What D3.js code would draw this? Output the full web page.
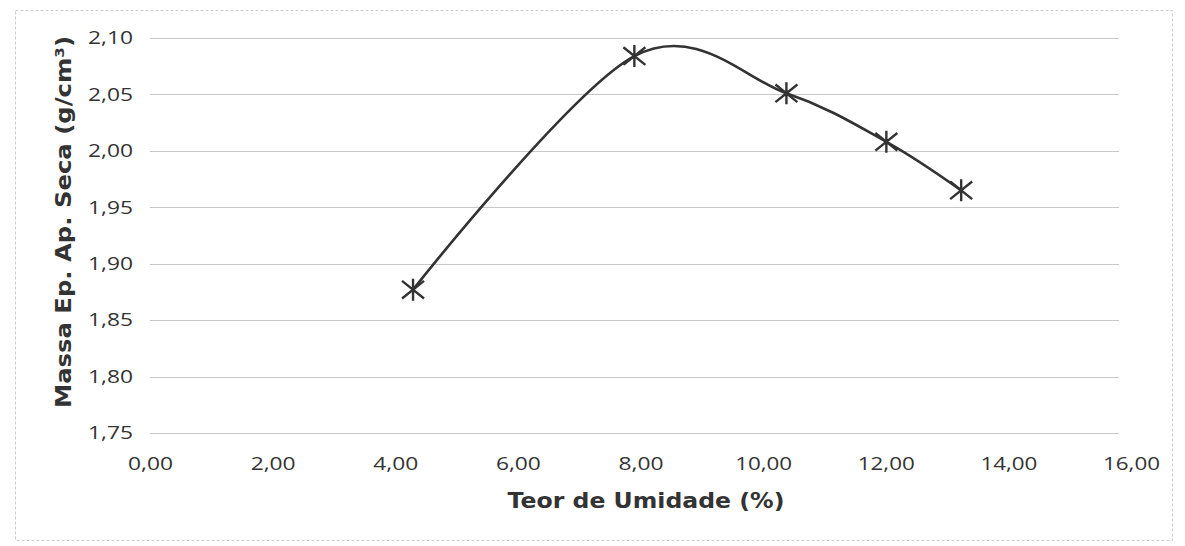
<!DOCTYPE html>
<html><head><meta charset="utf-8">
<script src="https://cdn.jsdelivr.net/npm/d3@7/dist/d3.min.js"></script>
<style>body{margin:0;background:#fff;} svg{display:block;}</style>
</head><body>
<svg id="c" width="1185" height="546"></svg>
<script>
const umidade = [4.29, 7.90, 10.38, 12.01, 13.23];
const massa = [1.877, 2.084, 2.051, 2.008, 1.965];
const xTicks = [0, 2, 4, 6, 8, 10, 12, 14, 16];
const yTicks = [1.75, 1.80, 1.85, 1.90, 1.95, 2.00, 2.05, 2.10];
const xTitle = "Teor de Umidade (%)";
const yTitle = "Massa Ep. Ap. Seca (g/cm³)";

const svg = d3.select("#c");
const m = {left:150, right:1131, top:38, bottom:433};
const x = d3.scaleLinear().domain([0,16]).range([m.left, m.right]);
const y = d3.scaleLinear().domain([1.75,2.10]).range([m.bottom, m.top]);
const fmt = d => d.toFixed(2).replace(".", ",");
const ink = "#333";
const tickFont = "'Open Sans', Lato, sans-serif";
const titleFont = "'DejaVu Sans', Verdana, sans-serif";

// chart border
svg.append("rect").attr("x",15.5).attr("y",10.5).attr("width",1157).attr("height",530)
  .attr("fill","none").attr("stroke","#ccc").attr("stroke-width",1).attr("stroke-dasharray","3,2");

// gridlines
svg.append("g").selectAll("line").data(yTicks).join("line")
  .attr("x1",m.left).attr("x2",m.right - 12)
  .attr("y1",d=>Math.round(y(d))+0.5).attr("y2",d=>Math.round(y(d))+0.5)
  .attr("stroke","#c8c8c8").attr("stroke-width",1.2);

const tl = t => (t.length > 4 ? 57 : 45);

// y axis labels
const yAxis = d3.axisLeft(y).tickValues(yTicks).tickFormat(fmt).tickSize(0).tickPadding(17);
const gy = svg.append("g").attr("transform",`translate(${m.left},0)`).call(yAxis);
gy.select(".domain").remove();
gy.selectAll("text").attr("font-family",tickFont).attr("font-size",18).attr("fill",ink)
  .attr("textLength",function(){return tl(this.textContent);}).attr("lengthAdjust","spacingAndGlyphs");

// x axis labels
const xAxis = d3.axisBottom(x).tickValues(xTicks).tickFormat(fmt).tickSize(0).tickPadding(24);
const gx = svg.append("g").attr("transform",`translate(0,${m.bottom})`).call(xAxis);
gx.select(".domain").remove();
gx.selectAll("text").attr("font-family",tickFont).attr("font-size",18).attr("fill",ink)
  .attr("textLength",function(){return tl(this.textContent);}).attr("lengthAdjust","spacingAndGlyphs");

// titles
svg.append("text").attr("x",646).attr("y",508).attr("text-anchor","middle")
  .attr("font-family",titleFont).attr("font-weight","bold")
  .attr("font-size",21).attr("fill",ink)
  .attr("textLength",277).attr("lengthAdjust","spacingAndGlyphs").text(xTitle);
svg.append("text").attr("transform",`translate(71,222) rotate(-90)`)
  .attr("text-anchor","middle")
  .attr("font-family",titleFont).attr("font-weight","bold")
  .attr("font-size",21).attr("fill",ink)
  .attr("textLength",372).attr("lengthAdjust","spacingAndGlyphs").text(yTitle);

// line
const pts = umidade.map((u,i)=>[u, massa[i]]);
const line = d3.line().x(d=>x(d[0])).y(d=>y(d[1])).curve(d3.curveCardinal.tension(0));
svg.append("path").datum(pts).attr("d",line).attr("fill","none")
  .attr("stroke",ink).attr("stroke-width",2.6);

// star markers
const s = 11;
const mk = svg.append("g").selectAll("g").data(pts).join("g")
  .attr("transform",d=>`translate(${x(d[0])},${y(d[1])})`);
mk.append("path").attr("d",`M${-s},${-s*0.8}L${s},${s*0.8}M${-s},${s*0.8}L${s},${-s*0.8}M0,${-s}L0,${s}`)
  .attr("stroke",ink).attr("stroke-width",2.4).attr("fill","none");
</script>
</body></html>
